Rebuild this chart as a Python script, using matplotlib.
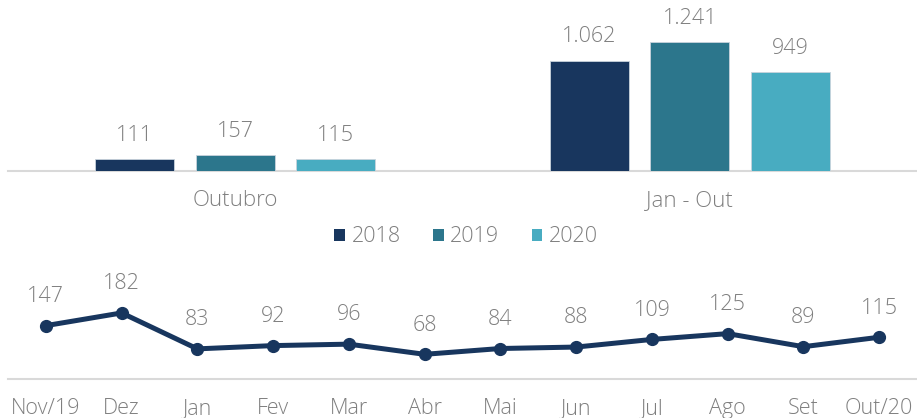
import matplotlib
matplotlib.use("Agg")
import matplotlib.pyplot as plt
from matplotlib.patches import Patch

# ---- data ----
bar_categories = ["Outubro", "Jan - Out"]
series_names = ["2018", "2019", "2020"]
vals_2018 = [111, 1062]
vals_2019 = [157, 1241]
vals_2020 = [115, 949]
bar_labels_2018 = ["111", "1.062"]
bar_labels_2019 = ["157", "1.241"]
bar_labels_2020 = ["115", "949"]

months = ["Nov/19", "Dez", "Jan", "Fev", "Mar", "Abr", "Mai", "Jun", "Jul", "Ago", "Set", "Out/20"]
monthly = [147, 182, 83, 92, 96, 68, 84, 88, 109, 125, 89, 115]

colors = ["#18365e", "#2c768c", "#48acc1"]
text_color = "#7f7f7f"
base_color = "#d9d9d9"
FS = 15.5

plt.rcParams['font.family'] = ['Open Sans', 'DejaVu Sans']

W, H = 917, 418
fig = plt.figure(figsize=(W / 100, H / 100), dpi=100)
fig.patch.set_facecolor("white")

def px_axes(x0, y_top, x1, y_bot):
    return fig.add_axes([x0 / W, 1 - y_bot / H, (x1 - x0) / W, (y_bot - y_top) / H])

# ---- top bar chart ----
ax = px_axes(8, 0, 917, 171)
bw = 0.174
step = 0.221
series = [vals_2018, vals_2019, vals_2020]
labels = [bar_labels_2018, bar_labels_2019, bar_labels_2020]
handles = []
for i, (vals, labs) in enumerate(zip(series, labels)):
    xs = [c + (i - 1) * step for c in range(len(bar_categories))]
    ax.bar(xs, vals, width=bw, color=colors[i], edgecolor="#c9d3dc", linewidth=0.6, zorder=3)
    handles.append(Patch(facecolor=colors[i], label=series_names[i]))
    for x, v, l in zip(xs, vals, labs):
        ax.annotate(l, (x, v), xytext=(0, 17), textcoords="offset points",
                    ha="center", va="center", fontsize=FS, color=text_color, fontweight="light")
ax.set_xlim(-0.5, 1.5)
ax.set_ylim(0, 1241 * 171 / 129)
ax.set_xticks(range(len(bar_categories)))
ax.set_xticklabels(bar_categories, fontsize=16, color=text_color, fontweight="light")
ax.tick_params(axis="x", length=0, pad=13.5)
ax.set_yticks([])
for s in ["top", "left", "right"]:
    ax.spines[s].set_visible(False)
ax.spines["bottom"].set_color(base_color)
ax.spines["bottom"].set_linewidth(1.5)
ax.patch.set_alpha(0)

# ---- legend ----
leg = fig.legend(handles=handles, loc="center", bbox_to_anchor=(466 / W, 1 - 237 / H),
                 ncol=3, frameon=False, fontsize=FS, handlelength=0.5, handleheight=0.5,
                 handletextpad=0.3, columnspacing=1.5, borderaxespad=0)
for t in leg.get_texts():
    t.set_color(text_color)
    t.set_fontweight("light")

# ---- bottom line chart ----
ax2 = px_axes(8, 249, 917, 379)
xs = list(range(len(months)))
ax2.plot(xs, monthly, color=colors[0], linewidth=3.6, marker="o", markersize=8.5, zorder=3,
         solid_joinstyle="round")
for x, v in zip(xs, monthly):
    ax2.annotate(str(v), (x, v), xytext=(0, 21), textcoords="offset points",
                 ha="center", va="center", fontsize=FS, color=text_color, fontweight="light")
ax2.set_xlim(-0.5, len(months) - 0.5)
ax2.set_ylim(0, 130 / 0.363)
ax2.set_xticks(xs)
ax2.set_xticklabels(months, fontsize=FS, color=text_color, fontweight="light")
ax2.tick_params(axis="x", length=0, pad=14)
ax2.set_yticks([])
for s in ["top", "left", "right"]:
    ax2.spines[s].set_visible(False)
ax2.spines["bottom"].set_color(base_color)
ax2.spines["bottom"].set_linewidth(1.5)
ax2.patch.set_alpha(0)

fig.savefig("out.png", dpi=100, facecolor="white")
